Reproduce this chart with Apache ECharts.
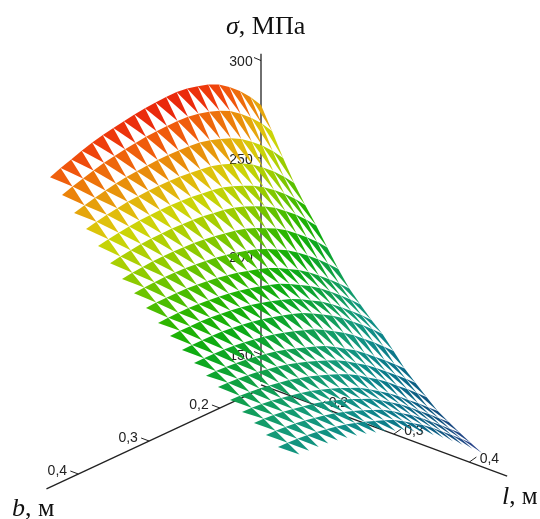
<!DOCTYPE html>
<html>
<head>
<meta charset="utf-8">
<script src="https://cdn.jsdelivr.net/npm/echarts@6/dist/echarts.min.js"></script>
<style>html,body{margin:0;padding:0;background:#fff}#chart{width:540px;height:519px}</style>
</head>
<body>
<div id="chart"></div>
<script>
// surface grid
var bGrid = [0.44,0.4251,0.4102,0.3953,0.3804,0.3655,0.3506,0.3357,0.3208,0.3059,0.291,0.2761,0.2612,0.2463,0.2314,0.2165,0.2016,0.1867,0.1718,0.1569,0.142];
var lGrid = [0.124,0.1386,0.1533,0.1679,0.1825,0.1972,0.2118,0.2264,0.241,0.2557,0.2703,0.2849,0.2996,0.3142,0.3288,0.3435,0.3581,0.3727,0.3873,0.402,0.4166];
// one line per l, one value per b
var sigma = [
  [290.7,292.8,294.7,296.6,298.3,299.6,300.7,301.7,302.6,303.3,303.7,304,304,303.3,302,300.3,297.8,294,289.5,283.9,277.3],
  [283.9,285.7,287.3,288.9,290.3,291.3,292.2,292.9,293.5,293.9,294,294,293.7,292.7,291.2,289.3,286.6,282.7,278.2,272.8,266.4],
  [277,278.5,279.8,281,282.1,282.8,283.3,283.7,284,284,283.8,283.5,282.9,281.5,279.7,277.6,274.7,270.8,266.3,261,254.9],
  [271.2,272.4,273.4,274.3,275,275.4,275.6,275.7,275.6,275.3,274.7,274,273.1,271.5,269.4,267,263.9,259.9,255.5,250.3,244.5],
  [264.8,265.8,266.6,267.3,267.8,268,268.1,268,267.7,267.2,266.4,265.6,264.5,262.7,260.4,257.9,254.7,250.7,246.3,241.2,235.5],
  [258.4,259.3,260,260.6,260.9,261,261,260.7,260.3,259.7,258.8,257.9,256.6,254.7,252.3,249.7,246.5,242.4,238,233,227.4],
  [252.6,253.3,253.7,254.1,254.2,254.1,253.8,253.4,252.7,251.9,250.8,249.6,248.2,246,243.4,240.7,237.3,233.2,228.8,223.9,218.5],
  [247.7,248.1,248.3,248.4,248.2,247.9,247.3,246.6,245.7,244.6,243.2,241.7,240,237.6,234.8,231.9,228.3,224.2,219.8,215,209.8],
  [242.4,242.7,242.7,242.6,242.3,241.7,241,240.2,239.1,237.8,236.2,234.6,232.8,230.2,227.2,224.2,220.5,216.4,212,207.3,202.2],
  [237.1,237.3,237.3,237.2,236.8,236.2,235.5,234.6,233.5,232.1,230.6,228.9,227,224.4,221.4,218.4,214.7,210.5,206.1,201.4,196.4],
  [232.8,232.9,232.8,232.6,232.2,231.5,230.7,229.7,228.5,227,225.4,223.6,221.6,218.9,215.8,212.7,209,204.8,200.4,195.8,190.8],
  [227.9,228,227.9,227.7,227.3,226.6,225.8,224.8,223.6,222.1,220.5,218.7,216.7,214,210.9,207.8,204.1,199.9,195.5,190.9,185.9],
  [223.6,223.6,223.4,223,222.4,221.6,220.6,219.5,218.1,216.5,214.7,212.8,210.7,207.9,204.7,201.4,197.6,193.4,189.1,184.4,179.6],
  [219.5,219.3,218.9,218.3,217.6,216.6,215.5,214.2,212.6,210.8,208.8,206.8,204.5,201.5,198.1,194.8,190.8,186.5,182.2,177.7,173],
  [216,215.7,215.2,214.5,213.6,212.5,211.3,209.9,208.2,206.3,204.2,202,199.6,196.5,193,189.6,185.6,181.3,177,172.5,167.9],
  [211.7,211.4,210.8,210.1,209.1,208,206.8,205.3,203.6,201.6,199.5,197.2,194.8,191.7,188.1,184.7,180.7,176.3,172.1,167.6,163],
  [207.9,207.5,206.9,206.1,205,203.8,202.5,201,199.2,197.2,195,192.6,190.1,186.9,183.3,179.8,175.8,171.4,167.2,162.7,158.2],
  [204.6,204.2,203.6,202.8,201.7,200.5,199.2,197.7,195.9,193.9,191.7,189.3,186.8,183.6,180,176.5,172.5,168.1,163.9,159.4,154.9],
  [200.8,200.4,199.9,199.1,198.1,196.9,195.7,194.2,192.4,190.4,188.3,185.9,183.5,180.4,176.8,173.4,169.3,165,160.7,156.2,151.7],
  [197,196.7,196.2,195.5,194.6,193.5,192.3,190.9,189.2,187.3,185.2,183,180.6,177.5,174,170.6,166.6,162.3,158,153.5,148.9],
  [193.1,192.9,192.4,191.8,191,190,188.8,187.5,185.9,184,182,179.9,177.6,174.5,171.1,167.7,163.8,159.5,155.2,150.7,146]
];
var sigmaStops = [146,160,175,188,199,212,225,234,243,253,265,271,277,284,291,297,304];
var colorStops = ['#2f3f8c','#10507f','#0a6f8a','#0f8a8a','#149a78','#10a048','#0caa14','#24b400','#58c000','#98cc00','#ccd408','#e0c00c','#e6a00c','#ec7c0a','#f0580c','#ee3a0c','#e6180c'];
var zTicks = [300,250,200,150];
var bTicks = [0.2,0.3,0.4];
var lTicks = [0.2,0.3,0.4];
var zBase = 136, bAxisBase = 132.5;

// view of the 3d box, gives plot coordinates for api.coord
function project(b, l, s) {
  var db = b - 0.142, dl = l - 0.124;
  return [261 - 708 * db + 755 * dl + 218 * db * dl,
          382 + 330 * db + 310 * dl - 1.96 * (s - 136)];
}
// the l axis is not quite level in the picture
function lAxisBase(l) {
  return 134.5 + (l - 0.124) * 15.6;
}
function colorOf(s) {
  var k = 0;
  while (k < sigmaStops.length - 2 && s > sigmaStops[k + 1]) k++;
  var t = (s - sigmaStops[k]) / (sigmaStops[k + 1] - sigmaStops[k]);
  t = Math.max(0, Math.min(1, t));
  return echarts.color.lerp(t, [colorStops[k], colorStops[k + 1]]);
}
var triangles = [];
for (var j = 0; j < lGrid.length - 1; j++) {
  for (var i = 0; i < bGrid.length - 1; i++) {
    triangles.push([bGrid[i],lGrid[j],sigma[j][i], bGrid[i+1],lGrid[j],sigma[j][i+1], bGrid[i+1],lGrid[j+1],sigma[j+1][i+1]]);
  }
}
var axisLines = [
  [0.142,0.124,zBase, 0.142,0.124,303.5],
  [0.142,0.124,bAxisBase, 0.445,0.124,bAxisBase],
  [0.142,0.124,lAxisBase(0.124), 0.142,0.45,lAxisBase(0.45)]
];
var tickItems = [];
zTicks.forEach(function (v) { tickItems.push(['z', v]); });
bTicks.forEach(function (v) { tickItems.push(['b', v]); });
lTicks.forEach(function (v) { tickItems.push(['l', v]); });

function richText(size1, size2) {
  return {rich: {
    i: {fontFamily: 'Liberation Serif', fontStyle: 'italic', fontWeight: 'normal', fontSize: size1, color: '#111'},
    r: {fontFamily: 'Liberation Serif', fontWeight: 'normal', fontSize: size2, color: '#111'}
  }};
}

var option = {
  animation: false,
  grid: {left: 0, right: 0, top: 0, bottom: 0},
  xAxis: {type: 'value', min: 0, max: 540, show: false},
  yAxis: {type: 'value', min: 0, max: 519, inverse: true, show: false},
  title: [
    {text: '{i|σ}{r|, МПа}', left: 226, top: 14, padding: 0, textStyle: richText(26, 26)},
    {text: '{i|b}{r|, м}', left: 12, top: 496, padding: 0, textStyle: richText(26, 26)},
    {text: '{i|l}{r|, м}', left: 502, top: 484, padding: 0, textStyle: richText(26, 25)}
  ],
  series: [
    {
      type: 'custom', coordinateSystem: 'cartesian2d', silent: true, z: 1, clip: false,
      data: axisLines,
      encode: {x: 0, y: 1},
      renderItem: function (params, api) {
        var a = api.coord(project(api.value(0), api.value(1), api.value(2)));
        var c = api.coord(project(api.value(3), api.value(4), api.value(5)));
        return {type: 'line', shape: {x1: a[0], y1: a[1], x2: c[0], y2: c[1]}, style: {stroke: '#222', lineWidth: 1.3}};
      }
    },
    {
      type: 'custom', coordinateSystem: 'cartesian2d', silent: true, z: 1, clip: false,
      data: tickItems,
      dimensions: [{name: 'axis', type: 'ordinal'}, 'v'],
      renderItem: function (params, api) {
        var item = tickItems[params.dataIndex], v = item[1], p, tick, labelAt, text;
        if (item[0] === 'z') {
          p = project(0.142, 0.124, v);
          tick = [p[0] - 7, p[1] - 3]; labelAt = [p[0] - 20, p[1] + 2]; text = String(v);
        } else if (item[0] === 'b') {
          p = project(v, 0.124, bAxisBase);
          tick = [p[0] - 8, p[1] - 3]; labelAt = [p[0] - 21, p[1] - 3]; text = String(v).replace('.', ',');
        } else {
          p = project(0.142, v, lAxisBase(v));
          tick = [p[0] + 7, p[1] - 5]; labelAt = [p[0] + 20, p[1] - 3]; text = String(v).replace('.', ',');
        }
        var a = api.coord(p), c = api.coord(tick), t = api.coord(labelAt);
        return {type: 'group', children: [
          {type: 'line', shape: {x1: a[0], y1: a[1], x2: c[0], y2: c[1]}, style: {stroke: '#222', lineWidth: 1}},
          {type: 'text', x: t[0], y: t[1], style: {text: text, font: '14px "Liberation Sans"', fill: '#222', textAlign: 'center', textVerticalAlign: 'middle'}}
        ]};
      }
    },
    {
      type: 'custom', coordinateSystem: 'cartesian2d', silent: true, z: 2, clip: false,
      data: triangles,
      encode: {x: 0, y: 1},
      renderItem: function (params, api) {
        var pts = [], sum = 0;
        for (var k = 0; k < 3; k++) {
          var s = api.value(3 * k + 2);
          sum += s;
          pts.push(api.coord(project(api.value(3 * k), api.value(3 * k + 1), s)));
        }
        return {type: 'polygon', shape: {points: pts}, style: {fill: colorOf(sum / 3)}};
      }
    }
  ]
};
var chart = echarts.init(document.getElementById('chart'));
chart.setOption(option);
</script>
</body>
</html>
